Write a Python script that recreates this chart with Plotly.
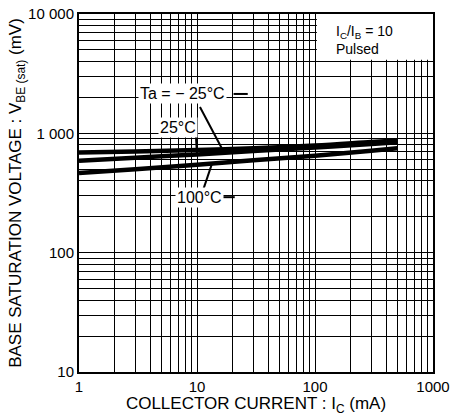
import plotly.graph_objects as go

# Data (Ic in mA, VBE(sat) in mV)
ic = [1, 3, 10, 30, 100, 300, 500]
vbe_m25 = [690, 705, 725, 750, 790, 845, 870]
vbe_25 = [590, 625, 665, 710, 760, 815, 840]
vbe_100 = [465, 500, 545, 595, 650, 715, 750]

x_ticks = [1, 10, 100, 1000]
x_tick_text = ["1", "10", "100", "1000"]
y_ticks = [10, 100, 1000, 10000]
y_tick_text = ["10", "100", "1 000", "10 000"]

def log_grid(lo_exp, hi_exp):
    vals = []
    for e in range(lo_exp, hi_exp):
        for m in range(1, 10):
            vals.append(m * 10 ** e)
    vals.append(10 ** hi_exp)
    return vals

xgrid = log_grid(0, 3)
ygrid = log_grid(1, 4)
xtext = [x_tick_text[x_ticks.index(v)] if v in x_ticks else "" for v in xgrid]
ytext = [y_tick_text[y_ticks.index(v)] if v in y_ticks else "" for v in ygrid]

fig = go.Figure()
for ys in (vbe_m25, vbe_25, vbe_100):
    fig.add_trace(go.Scatter(x=ic, y=ys, mode="lines",
                             line=dict(color="black", width=4.5, shape="spline"),
                             showlegend=False, hoverinfo="skip"))

font = dict(family="Liberation Sans, Arial, sans-serif", color="black")

fig.update_layout(
    width=456, height=416,
    margin=dict(l=79, r=23, t=14, b=44),
    paper_bgcolor="white", plot_bgcolor="white",
    font=dict(**font, size=14),
    xaxis=dict(type="log", range=[0, 3], tickvals=xgrid, ticktext=xtext,
               tickangle=0, automargin=False,
               showgrid=True, gridcolor="black", gridwidth=1,
               showline=True, linecolor="black", linewidth=2, mirror=True,
               ticks="", tickfont=dict(size=15), zeroline=False,
               title=dict(text="COLLECTOR CURRENT : I<sub>C</sub> (mA)",
                          font=dict(size=17), standoff=2)),
    yaxis=dict(type="log", range=[1, 4], tickvals=ygrid, ticktext=ytext,
               automargin=False,
               showgrid=True, gridcolor="black", gridwidth=1,
               showline=True, linecolor="black", linewidth=2, mirror=True,
               ticks="", tickfont=dict(size=15), zeroline=False,
               title=dict(text="BASE SATURATION VOLTAGE : V<sub>BE (sat)</sub> (mV)",
                          font=dict(size=17), standoff=2)),
)

# white box for the condition text
fig.add_shape(type="rect", xref="x domain", yref="y domain",
              x0=0.672, x1=1.0, y0=0.872, y1=1.0,
              fillcolor="white", line=dict(width=0), layer="above")
fig.add_annotation(xref="x domain", yref="y domain", x=0.72, y=0.98,
                   xanchor="left", yanchor="top", align="left", showarrow=False,
                   text="I<sub>C</sub>/I<sub>B</sub> = 10<br>Pulsed",
                   font=dict(size=14, **font))

# leader lines, given as log10 coordinates and mapped to the axis domains
def dx(lx):
    return lx / 3.0

def dy(ly):
    return (ly - 1.0) / 3.0

leaders = [
    (1.31, 3.33, 1.43, 3.33),
    (1.025, 3.22, 1.21, 2.875),
    (0.99, 2.99, 1.00, 2.83),
    (1.05, 2.52, 1.13, 2.755),
    (1.20, 2.465, 1.32, 2.465),
]
for x0, y0, x1, y1 in leaders:
    fig.add_shape(type="line", xref="x domain", yref="y domain",
                  x0=dx(x0), y0=dy(y0), x1=dx(x1), y1=dy(y1),
                  line=dict(color="black", width=2), layer="above")

# labels
fig.add_annotation(x=0.88, y=3.335, xref="x", yref="y", text="Ta = − 25°C", showarrow=False,
                   font=dict(size=16, **font), bgcolor="white")
fig.add_annotation(x=0.84, y=3.05, xref="x", yref="y", text="25°C", showarrow=False,
                   font=dict(size=16, **font), bgcolor="white")
fig.add_annotation(x=1.02, y=2.46, xref="x", yref="y", text="100°C", showarrow=False,
                   font=dict(size=16, **font), bgcolor="white")

fig.write_html("out.html")
